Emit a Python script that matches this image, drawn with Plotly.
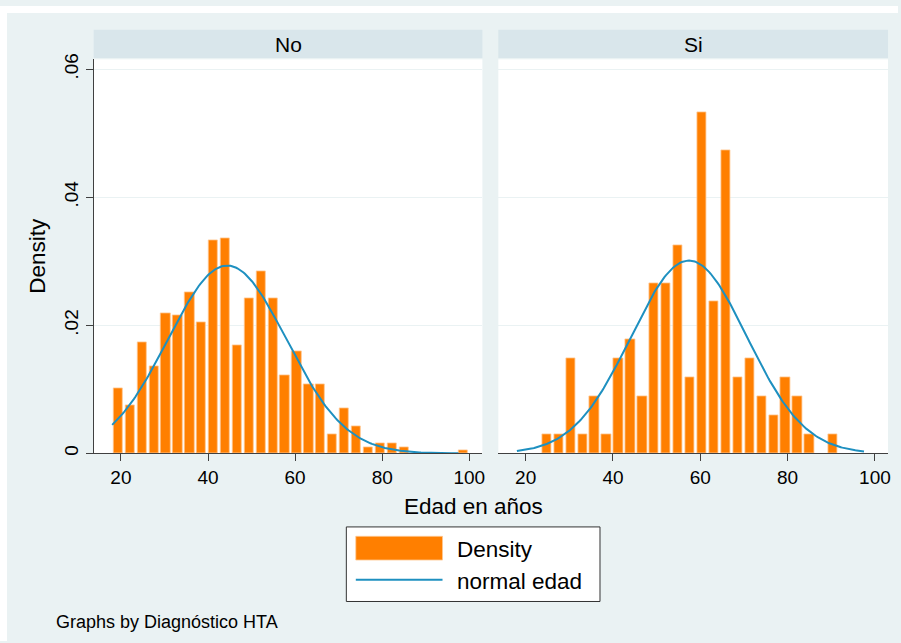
import math
import plotly.graph_objects as go

# ---------------- data ----------------
BIN_START = 18.0
BIN_WIDTH = 82.0 / 30          # common bins for both panels
PANELS = ["No", "Si"]

density_no = [0.0102, 0.0075, 0.0173, 0.0136, 0.0219, 0.0215, 0.0252, 0.0205,
              0.0332, 0.0336, 0.0168, 0.0242, 0.0285, 0.0242, 0.0122, 0.0159,
              0.0108, 0.0108, 0.0029, 0.0071, 0.0043, 0.0010, 0.0015, 0.0015,
              0.0010, 0.0, 0.0, 0.0, 0.0, 0.0005]
density_si = [0.0, 0.0, 0.0030, 0.0030, 0.0148, 0.0030, 0.0089, 0.0030,
              0.0148, 0.0178, 0.0089, 0.0266, 0.0266, 0.0325, 0.0119, 0.0533,
              0.0237, 0.0474, 0.0119, 0.0148, 0.0089, 0.0059, 0.0119, 0.0089,
              0.0030, 0.0, 0.0030, 0.0, 0.0, 0.0]

normal_mean = {"No": 44.4, "Si": 57.4}
normal_sd = {"No": 13.6, "Si": 13.25}
curve_range = (18.0, 97.5)

x_ticks = [20, 40, 60, 80, 100]
y_ticks = [0, 0.02, 0.04, 0.06]
y_ticktext = ["0", ".02", ".04", ".06"]

# ---------------- style ----------------
W, H = 901, 643
BG = "#EAF2F3"
STRIP = "#D9E6EB"
ORANGE = "#FF7F00"
BLUE = "#1E90C0"
AXIS = "#404040"
FONT = "Arial, Liberation Sans, sans-serif"


def px(x):
    return x / W


def py(y):
    return 1 - y / H


fig = go.Figure()

series = {"No": density_no, "Si": density_si}
for i, name in enumerate(PANELS):
    d = series[name]
    xs = [BIN_START + (k + 0.5) * BIN_WIDTH for k in range(len(d)) if d[k] > 0]
    ys = [v for v in d if v > 0]
    suffix = "" if i == 0 else "2"
    fig.add_trace(go.Bar(
        x=xs, y=ys, width=BIN_WIDTH * 0.78,
        marker=dict(color=ORANGE, line=dict(color="#FFC890", width=0.8)),
        xaxis="x" + suffix, yaxis="y" + suffix, showlegend=False,
        hoverinfo="skip"))
    n = 240
    cx = [curve_range[0] + (curve_range[1] - curve_range[0]) * j / n for j in range(n + 1)]
    m, s = normal_mean[name], normal_sd[name]
    cy = [math.exp(-0.5 * ((v - m) / s) ** 2) / (s * math.sqrt(2 * math.pi)) for v in cx]
    fig.add_trace(go.Scatter(
        x=cx, y=cy, mode="lines", line=dict(color=BLUE, width=2),
        xaxis="x" + suffix, yaxis="y" + suffix, showlegend=False,
        hoverinfo="skip"))

xrange = [13.75, 103.0]
yrange = [0, 0.06154]
xa = dict(range=xrange, tickvals=x_ticks, ticks="outside", ticklen=7,
          tickcolor=AXIS, tickwidth=1, showline=True, linecolor=AXIS,
          linewidth=1, showgrid=False, zeroline=False,
          tickfont=dict(family=FONT, size=19, color="black"))
ya_common = dict(range=yrange, tickvals=y_ticks, ticktext=y_ticktext,
                 showgrid=True, gridcolor=BG, gridwidth=1, zeroline=False)

fig.update_layout(
    width=W, height=H, autosize=False,
    margin=dict(l=0, r=0, t=0, b=0),
    paper_bgcolor=BG, plot_bgcolor="white",
    font=dict(family=FONT, color="black"),
    bargap=0,
    xaxis=dict(domain=[px(94), px(484)], anchor="y", **xa),
    xaxis2=dict(domain=[px(500), px(891)], anchor="y2", **xa),
    yaxis=dict(domain=[py(453), py(54)], anchor="x", ticks="outside",
               ticklen=7, tickcolor=AXIS, tickwidth=1, showline=True,
               linecolor=AXIS, linewidth=1, tickangle=-90,
               tickfont=dict(family=FONT, size=19, color="black"),
               **ya_common),
    yaxis2=dict(domain=[py(453), py(54)], anchor="x2", showticklabels=False,
                ticks="", showline=False, **ya_common),
)

shapes = []
annotations = []
# white outer border (top / left)
shapes.append(dict(type="rect", xref="paper", yref="paper", x0=0, x1=1,
                   y0=py(7), y1=1, fillcolor="white", line=dict(width=0),
                   layer="above"))
shapes.append(dict(type="rect", xref="paper", yref="paper", x0=0, x1=px(7),
                   y0=0, y1=1, fillcolor="white", line=dict(width=0),
                   layer="above"))
# panel strips
for name, (x0, x1) in zip(PANELS, [(94, 484), (500, 891)]):
    shapes.append(dict(type="rect", xref="paper", yref="paper",
                       x0=px(x0), x1=px(x1), y0=py(52.7), y1=py(24),
                       fillcolor=STRIP, line=dict(width=0)))
    annotations.append(dict(text=name, xref="paper", yref="paper",
                            x=px((x0 + x1) / 2), y=py(38.5), showarrow=False,
                            xanchor="center", yanchor="middle",
                            font=dict(family=FONT, size=21, color="black")))

# axis titles
annotations.append(dict(text="Edad en años", xref="paper", yref="paper",
                        x=px(475), y=py(507), showarrow=False,
                        xanchor="center", yanchor="middle",
                        font=dict(family=FONT, size=22.5, color="black")))
annotations.append(dict(text="Density", xref="paper", yref="paper",
                        x=px(38), y=py(253), showarrow=False, textangle=-90,
                        xanchor="center", yanchor="middle",
                        font=dict(family=FONT, size=22.5, color="black")))

# legend box
shapes.append(dict(type="rect", xref="paper", yref="paper",
                   x0=px(347.5), x1=px(602), y0=py(603), y1=py(527.5),
                   fillcolor="white", line=dict(color="#333333", width=1)))
shapes.append(dict(type="rect", xref="paper", yref="paper",
                   x0=px(357), x1=px(444), y0=py(561), y1=py(537),
                   fillcolor=ORANGE, line=dict(color="#FFC890", width=0.8)))
shapes.append(dict(type="line", xref="paper", yref="paper",
                   x0=px(357), x1=px(444), y0=py(581), y1=py(581),
                   line=dict(color=BLUE, width=2)))
annotations.append(dict(text="Density", xref="paper", yref="paper",
                        x=px(457), y=py(550), showarrow=False,
                        xanchor="left", yanchor="middle",
                        font=dict(family=FONT, size=22.5, color="black")))
annotations.append(dict(text="normal edad", xref="paper", yref="paper",
                        x=px(457), y=py(583), showarrow=False,
                        xanchor="left", yanchor="middle",
                        font=dict(family=FONT, size=22.5, color="black")))

# note
annotations.append(dict(text="Graphs by Diagnóstico HTA", xref="paper",
                        yref="paper", x=px(54), y=py(624), showarrow=False,
                        xanchor="left", yanchor="middle",
                        font=dict(family=FONT, size=18, color="black")))

fig.update_layout(shapes=shapes, annotations=annotations)
fig.write_html("out.html")
